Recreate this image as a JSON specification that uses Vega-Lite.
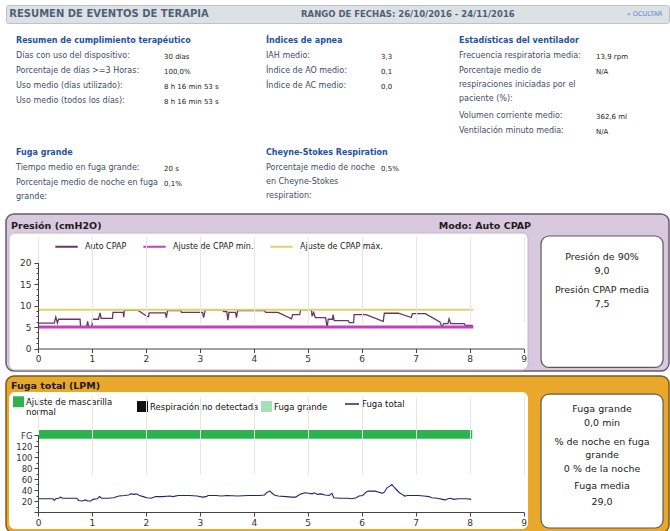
{
"$schema": "https://vega.github.io/schema/vega-lite/v6.json",
"padding": {"left": 5, "top": 4, "right": 2, "bottom": 0},
"background": "white",
"spacing": 3,
"resolve": {"scale": {"color": "independent", "stroke": "independent"}, "legend": {"color": "independent", "stroke": "independent"}},
"config": {
  "view": {"stroke": null},
  "font": "DejaVu Sans",
  "axis": {"labelFont": "DejaVu Sans", "labelFontSize": 9, "labelColor": "#333333", "domainColor": "#444444", "tickColor": "#444444", "labelFlush": false, "labelOverlap": false},
  "legend": {"labelFont": "DejaVu Sans"}
},
"vconcat": [
{
  "width": 663, "height": 18,
  "view": {"fill": "#dde1e6", "stroke": "#bcc3cb", "cornerRadius": 2},
  "layer": [
    {"data": {"values": [{"texto": "RESUMEN DE EVENTOS DE TERAPIA"}]},
     "mark": {"type": "text", "align": "left", "baseline": "middle", "fontSize": 10, "fontWeight": "bold", "color": "#4e6175"},
     "encoding": {"x": {"datum": 0.005, "type": "quantitative", "scale": {"domain": [0, 1], "nice": false, "zero": false}, "axis": null},
                  "y": {"datum": 0.5, "type": "quantitative", "scale": {"domain": [0, 1], "nice": false, "zero": false}, "axis": null},
                  "text": {"field": "texto"}}},
    {"data": {"values": [{"texto": "RANGO DE FECHAS: 26/10/2016 - 24/11/2016"}]},
     "mark": {"type": "text", "align": "left", "baseline": "middle", "fontSize": 8.5, "fontWeight": "bold", "color": "#4e6175"},
     "encoding": {"x": {"datum": 0.445, "type": "quantitative", "scale": {"domain": [0, 1], "nice": false, "zero": false}, "axis": null},
                  "y": {"datum": 0.5, "type": "quantitative", "scale": {"domain": [0, 1], "nice": false, "zero": false}, "axis": null},
                  "text": {"field": "texto"}}},
    {"data": {"values": [{"texto": "» OCULTAR"}]},
     "mark": {"type": "text", "align": "right", "baseline": "middle", "fontSize": 6.5, "color": "#5b86c2"},
     "encoding": {"x": {"datum": 0.99, "type": "quantitative", "scale": {"domain": [0, 1], "nice": false, "zero": false}, "axis": null},
                  "y": {"datum": 0.5, "type": "quantitative", "scale": {"domain": [0, 1], "nice": false, "zero": false}, "axis": null},
                  "text": {"field": "texto"}}}
  ]
},
{
  "hconcat": [
    {
      "width": 250, "height": 114,
      "data": {"values": [
        {"linea": 1, "etiqueta": "Días con uso del dispositivo:", "valor": "30 días"},
        {"linea": 2, "etiqueta": "Porcentaje de días >=3 Horas:", "valor": "100,0%"},
        {"linea": 3, "etiqueta": "Uso medio (días utilizado):", "valor": "8 h 16 min 53 s"},
        {"linea": 4, "etiqueta": "Uso medio (todos los días):", "valor": "8 h 16 min 53 s"}
      ]},
      "layer": [
        {"mark": {"type": "text", "align": "left", "baseline": "top", "fontSize": 8, "color": "#3d4d66", "lineBreak": "\n", "lineHeight": 14},
         "encoding": {"x": {"datum": "etiqueta", "type": "nominal", "scale": {"type": "point", "domain": ["etiqueta", "valor"], "range": [10, 158], "padding": 0}, "axis": null},
                      "y": {"field": "linea", "type": "quantitative", "scale": {"domain": [0, 6], "range": [9.5, 99.5], "nice": false, "zero": false}, "axis": null},
                      "text": {"field": "etiqueta"}}},
        {"mark": {"type": "text", "align": "left", "baseline": "top", "fontSize": 7, "color": "#1a1a1a", "dy": 1},
         "encoding": {"x": {"datum": "valor", "type": "nominal", "scale": {"type": "point", "domain": ["etiqueta", "valor"], "range": [10, 158], "padding": 0}, "axis": null},
                      "y": {"field": "linea", "type": "quantitative", "scale": {"domain": [0, 6], "range": [9.5, 99.5], "nice": false, "zero": false}, "axis": null},
                      "text": {"field": "valor"}}},
        {"data": {"values": [{"titulo": "Resumen de cumplimiento terapéutico"}]},
         "mark": {"type": "text", "align": "left", "baseline": "top", "fontSize": 8, "fontWeight": "bold", "color": "#27519a"},
         "encoding": {"x": {"datum": "etiqueta", "type": "nominal", "scale": {"type": "point", "domain": ["etiqueta", "valor"], "range": [10, 158], "padding": 0}, "axis": null},
                      "y": {"datum": 0, "type": "quantitative", "scale": {"domain": [0, 6], "range": [9.5, 99.5], "nice": false, "zero": false}, "axis": null},
                      "text": {"field": "titulo"}}}
      ]
    },
    {
      "width": 193, "height": 114,
      "data": {"values": [
        {"linea": 1, "etiqueta": "IAH medio:", "valor": "3,3"},
        {"linea": 2, "etiqueta": "Índice de AO medio:", "valor": "0,1"},
        {"linea": 3, "etiqueta": "Índice de AC medio:", "valor": "0,0"}
      ]},
      "layer": [
        {"mark": {"type": "text", "align": "left", "baseline": "top", "fontSize": 8, "color": "#3d4d66", "lineBreak": "\n", "lineHeight": 14},
         "encoding": {"x": {"datum": "etiqueta", "type": "nominal", "scale": {"type": "point", "domain": ["etiqueta", "valor"], "range": [10, 125], "padding": 0}, "axis": null},
                      "y": {"field": "linea", "type": "quantitative", "scale": {"domain": [0, 6], "range": [9.5, 99.5], "nice": false, "zero": false}, "axis": null},
                      "text": {"field": "etiqueta"}}},
        {"mark": {"type": "text", "align": "left", "baseline": "top", "fontSize": 7, "color": "#1a1a1a", "dy": 1},
         "encoding": {"x": {"datum": "valor", "type": "nominal", "scale": {"type": "point", "domain": ["etiqueta", "valor"], "range": [10, 125], "padding": 0}, "axis": null},
                      "y": {"field": "linea", "type": "quantitative", "scale": {"domain": [0, 6], "range": [9.5, 99.5], "nice": false, "zero": false}, "axis": null},
                      "text": {"field": "valor"}}},
        {"data": {"values": [{"titulo": "Índices de apnea"}]},
         "mark": {"type": "text", "align": "left", "baseline": "top", "fontSize": 8, "fontWeight": "bold", "color": "#27519a"},
         "encoding": {"x": {"datum": "etiqueta", "type": "nominal", "scale": {"type": "point", "domain": ["etiqueta", "valor"], "range": [10, 125], "padding": 0}, "axis": null},
                      "y": {"datum": 0, "type": "quantitative", "scale": {"domain": [0, 6], "range": [9.5, 99.5], "nice": false, "zero": false}, "axis": null},
                      "text": {"field": "titulo"}}}
      ]
    },
    {
      "width": 220, "height": 114,
      "data": {"values": [
        {"linea": 1, "etiqueta": "Frecuencia respiratoria media:", "valor": "13,9 rpm"},
        {"linea": 2, "etiqueta": "Porcentaje medio de\nrespiraciones iniciadas por el\npaciente (%):", "valor": "N/A"},
        {"linea": 5, "etiqueta": "Volumen corriente medio:", "valor": "362,6 ml"},
        {"linea": 6, "etiqueta": "Ventilación minuto media:", "valor": "N/A"}
      ]},
      "layer": [
        {"mark": {"type": "text", "align": "left", "baseline": "top", "fontSize": 8, "color": "#3d4d66", "lineBreak": "\n", "lineHeight": 14},
         "encoding": {"x": {"datum": "etiqueta", "type": "nominal", "scale": {"type": "point", "domain": ["etiqueta", "valor"], "range": [10, 147], "padding": 0}, "axis": null},
                      "y": {"field": "linea", "type": "quantitative", "scale": {"domain": [0, 6], "range": [9.5, 99.5], "nice": false, "zero": false}, "axis": null},
                      "text": {"field": "etiqueta"}}},
        {"mark": {"type": "text", "align": "left", "baseline": "top", "fontSize": 7, "color": "#1a1a1a", "dy": 1},
         "encoding": {"x": {"datum": "valor", "type": "nominal", "scale": {"type": "point", "domain": ["etiqueta", "valor"], "range": [10, 147], "padding": 0}, "axis": null},
                      "y": {"field": "linea", "type": "quantitative", "scale": {"domain": [0, 6], "range": [9.5, 99.5], "nice": false, "zero": false}, "axis": null},
                      "text": {"field": "valor"}}},
        {"data": {"values": [{"titulo": "Estadísticas del ventilador"}]},
         "mark": {"type": "text", "align": "left", "baseline": "top", "fontSize": 8, "fontWeight": "bold", "color": "#27519a"},
         "encoding": {"x": {"datum": "etiqueta", "type": "nominal", "scale": {"type": "point", "domain": ["etiqueta", "valor"], "range": [10, 147], "padding": 0}, "axis": null},
                      "y": {"datum": 0, "type": "quantitative", "scale": {"domain": [0, 6], "range": [9.5, 99.5], "nice": false, "zero": false}, "axis": null},
                      "text": {"field": "titulo"}}}
      ]
    }
  ],
  "spacing": 0,
  "bounds": "flush"
},
{
  "hconcat": [
    {
      "width": 250, "height": 66,
      "data": {"values": [
        {"linea": 1, "etiqueta": "Tiempo medio en fuga grande:", "valor": "20 s"},
        {"linea": 2, "etiqueta": "Porcentaje medio de noche en fuga\ngrande:", "valor": "0,1%"}
      ]},
      "layer": [
        {"mark": {"type": "text", "align": "left", "baseline": "top", "fontSize": 8, "color": "#3d4d66", "lineBreak": "\n", "lineHeight": 14},
         "encoding": {"x": {"datum": "etiqueta", "type": "nominal", "scale": {"type": "point", "domain": ["etiqueta", "valor"], "range": [10, 158], "padding": 0}, "axis": null},
                      "y": {"field": "linea", "type": "quantitative", "scale": {"domain": [0, 3], "range": [4.5, 49.5], "nice": false, "zero": false}, "axis": null},
                      "text": {"field": "etiqueta"}}},
        {"mark": {"type": "text", "align": "left", "baseline": "top", "fontSize": 7, "color": "#1a1a1a", "dy": 1},
         "encoding": {"x": {"datum": "valor", "type": "nominal", "scale": {"type": "point", "domain": ["etiqueta", "valor"], "range": [10, 158], "padding": 0}, "axis": null},
                      "y": {"field": "linea", "type": "quantitative", "scale": {"domain": [0, 3], "range": [4.5, 49.5], "nice": false, "zero": false}, "axis": null},
                      "text": {"field": "valor"}}},
        {"data": {"values": [{"titulo": "Fuga grande"}]},
         "mark": {"type": "text", "align": "left", "baseline": "top", "fontSize": 8, "fontWeight": "bold", "color": "#27519a"},
         "encoding": {"x": {"datum": "etiqueta", "type": "nominal", "scale": {"type": "point", "domain": ["etiqueta", "valor"], "range": [10, 158], "padding": 0}, "axis": null},
                      "y": {"datum": 0, "type": "quantitative", "scale": {"domain": [0, 3], "range": [4.5, 49.5], "nice": false, "zero": false}, "axis": null},
                      "text": {"field": "titulo"}}}
      ]
    },
    {
      "width": 413, "height": 66,
      "data": {"values": [
        {"linea": 1, "etiqueta": "Porcentaje medio de noche\nen Cheyne-Stokes\nrespiration:", "valor": "0,5%"}
      ]},
      "layer": [
        {"mark": {"type": "text", "align": "left", "baseline": "top", "fontSize": 8, "color": "#3d4d66", "lineBreak": "\n", "lineHeight": 14},
         "encoding": {"x": {"datum": "etiqueta", "type": "nominal", "scale": {"type": "point", "domain": ["etiqueta", "valor"], "range": [10, 125], "padding": 0}, "axis": null},
                      "y": {"field": "linea", "type": "quantitative", "scale": {"domain": [0, 3], "range": [4.5, 49.5], "nice": false, "zero": false}, "axis": null},
                      "text": {"field": "etiqueta"}}},
        {"mark": {"type": "text", "align": "left", "baseline": "top", "fontSize": 7, "color": "#1a1a1a", "dy": 1},
         "encoding": {"x": {"datum": "valor", "type": "nominal", "scale": {"type": "point", "domain": ["etiqueta", "valor"], "range": [10, 125], "padding": 0}, "axis": null},
                      "y": {"field": "linea", "type": "quantitative", "scale": {"domain": [0, 3], "range": [4.5, 49.5], "nice": false, "zero": false}, "axis": null},
                      "text": {"field": "valor"}}},
        {"data": {"values": [{"titulo": "Cheyne-Stokes Respiration"}]},
         "mark": {"type": "text", "align": "left", "baseline": "top", "fontSize": 8, "fontWeight": "bold", "color": "#27519a"},
         "encoding": {"x": {"datum": "etiqueta", "type": "nominal", "scale": {"type": "point", "domain": ["etiqueta", "valor"], "range": [10, 125], "padding": 0}, "axis": null},
                      "y": {"datum": 0, "type": "quantitative", "scale": {"domain": [0, 3], "range": [4.5, 49.5], "nice": false, "zero": false}, "axis": null},
                      "text": {"field": "titulo"}}}
      ]
    }
  ],
  "spacing": 0,
  "bounds": "flush"
},
{
  "width": 663, "height": 157,
  "view": {"fill": "#d9c9de", "stroke": "#6a5a70", "strokeWidth": 1.5, "cornerRadius": 8},
  "layer": [
    {"data": {"values": [{}]},
     "mark": {"type": "rect", "fill": "white", "stroke": "#c4b2ca", "strokeWidth": 1, "cornerRadius": 6},
     "encoding": {"x": {"datum": -0.538, "type": "quantitative", "scale": {"domain": [0, 9], "range": [32, 517.5], "nice": false, "zero": false}},
                  "x2": {"datum": 9.084},
                  "y": {"datum": -5.0, "type": "quantitative", "scale": {"domain": [0, 20], "range": [134.5, 48.5], "nice": false, "zero": false}},
                  "y2": {"datum": 26.86}}},
    {"data": {"values": [{}]},
     "mark": {"type": "rect", "fill": "white", "stroke": "#5a5a5a", "strokeWidth": 1.2, "cornerRadius": 8},
     "encoding": {"x": {"datum": 9.325, "type": "quantitative", "scale": {"domain": [0, 9], "range": [32, 517.5], "nice": false, "zero": false}},
                  "x2": {"datum": 11.587},
                  "y": {"datum": -4.4, "type": "quantitative", "scale": {"domain": [0, 20], "range": [134.5, 48.5], "nice": false, "zero": false}},
                  "y2": {"datum": 26.16}}},
    {"data": {"values": [{"texto": "Presión (cmH2O)"}]},
     "mark": {"type": "text", "align": "left", "baseline": "middle", "fontSize": 9.5, "fontWeight": "bold", "color": "#1c1c1c"},
     "encoding": {"x": {"datum": -0.5, "type": "quantitative", "scale": {"domain": [0, 9], "range": [32, 517.5], "nice": false, "zero": false}},
                  "y": {"datum": 28.49, "type": "quantitative", "scale": {"domain": [0, 20], "range": [134.5, 48.5], "nice": false, "zero": false}},
                  "text": {"field": "texto"}}},
    {"data": {"values": [{"texto": "Modo: Auto CPAP"}]},
     "mark": {"type": "text", "align": "right", "baseline": "middle", "fontSize": 9.5, "fontWeight": "bold", "color": "#1c1c1c"},
     "encoding": {"x": {"datum": 9.14, "type": "quantitative", "scale": {"domain": [0, 9], "range": [32, 517.5], "nice": false, "zero": false}},
                  "y": {"datum": 28.49, "type": "quantitative", "scale": {"domain": [0, 20], "range": [134.5, 48.5], "nice": false, "zero": false}},
                  "text": {"field": "texto"}}},
    {"data": {"values": [
       {"hora": 0, "presion": 5.9}, {"hora": 0.3, "presion": 5.9}, {"hora": 0.33, "presion": 7.3}, {"hora": 0.36, "presion": 5.9},
       {"hora": 0.38, "presion": 6.8}, {"hora": 0.78, "presion": 6.8}, {"hora": 0.79, "presion": 5.0}, {"hora": 0.9, "presion": 5.0},
       {"hora": 0.92, "presion": 6.3}, {"hora": 0.94, "presion": 5.0}, {"hora": 1.0, "presion": 5.0}, {"hora": 1.01, "presion": 6.8},
       {"hora": 1.12, "presion": 6.8}, {"hora": 1.15, "presion": 8.3}, {"hora": 1.17, "presion": 7.0}, {"hora": 1.38, "presion": 7.0},
       {"hora": 1.39, "presion": 8.4}, {"hora": 1.58, "presion": 8.4}, {"hora": 1.59, "presion": 7.3}, {"hora": 1.6, "presion": 8.9},
       {"hora": 1.85, "presion": 8.9}, {"hora": 2.03, "presion": 7.4}, {"hora": 2.05, "presion": 7.4}, {"hora": 2.06, "presion": 8.3},
       {"hora": 2.36, "presion": 8.3}, {"hora": 2.38, "presion": 7.2}, {"hora": 2.4, "presion": 8.8}, {"hora": 2.65, "presion": 8.8},
       {"hora": 2.66, "presion": 8.4}, {"hora": 3.05, "presion": 8.4}, {"hora": 3.07, "presion": 7.2}, {"hora": 3.1, "presion": 9.0},
       {"hora": 3.42, "presion": 9.0}, {"hora": 3.44, "presion": 8.6}, {"hora": 3.5, "presion": 8.6}, {"hora": 3.52, "presion": 6.6},
       {"hora": 3.54, "presion": 8.4}, {"hora": 3.66, "presion": 8.4}, {"hora": 3.68, "presion": 7.2}, {"hora": 3.7, "presion": 8.8},
       {"hora": 4.2, "presion": 8.8}, {"hora": 4.22, "presion": 8.4}, {"hora": 4.45, "presion": 8.4}, {"hora": 4.7, "presion": 6.9},
       {"hora": 4.72, "presion": 7.9}, {"hora": 4.85, "presion": 7.9}, {"hora": 4.87, "presion": 9.0}, {"hora": 5.07, "presion": 9.0},
       {"hora": 5.08, "presion": 7.5}, {"hora": 5.11, "presion": 8.4}, {"hora": 5.14, "presion": 7.2}, {"hora": 5.33, "presion": 7.2},
       {"hora": 5.36, "presion": 5.0}, {"hora": 5.38, "presion": 6.8}, {"hora": 5.46, "presion": 6.8}, {"hora": 5.47, "presion": 7.9},
       {"hora": 5.49, "presion": 6.5}, {"hora": 5.75, "presion": 6.5}, {"hora": 5.77, "presion": 6.0}, {"hora": 5.85, "presion": 6.0},
       {"hora": 5.86, "presion": 7.9}, {"hora": 6.08, "presion": 7.9}, {"hora": 6.4, "presion": 6.3}, {"hora": 6.42, "presion": 8.2},
       {"hora": 6.68, "presion": 8.2}, {"hora": 6.92, "presion": 7.2}, {"hora": 6.94, "presion": 8.1}, {"hora": 7.18, "presion": 8.1},
       {"hora": 7.45, "presion": 6.2}, {"hora": 7.49, "presion": 5.0}, {"hora": 7.52, "presion": 5.8}, {"hora": 7.6, "presion": 5.8},
       {"hora": 7.62, "presion": 6.9}, {"hora": 7.65, "presion": 5.8}, {"hora": 7.9, "presion": 5.8}, {"hora": 7.92, "presion": 5.4},
       {"hora": 8.06, "presion": 5.4}
     ]},
     "mark": {"type": "line", "strokeWidth": 1.3},
     "encoding": {
       "x": {"field": "hora", "type": "quantitative", "scale": {"domain": [0, 9], "range": [32, 517.5], "nice": false, "zero": false},
             "axis": {"values": [0, 1, 2, 3, 4, 5, 6, 7, 8, 9], "tickCount": 100, "format": "d", "labelOverlap": false, "offset": -22.5, "grid": true, "gridColor": "#e6e6e6", "tickSize": 4, "labelPadding": 2, "title": null, "zindex": 1}},
       "y": {"field": "presion", "type": "quantitative", "scale": {"domain": [0, 20], "range": [134.5, 48.5], "nice": false, "zero": false},
             "axis": {"values": [0, 1.25, 2.5, 3.75, 5, 6.25, 7.5, 8.75, 10, 11.25, 12.5, 13.75, 15, 16.25, 17.5, 18.75, 20], "tickCount": 100, "format": "d", "labelOverlap": false, "offset": -32, "grid": false,
                      "labelExpr": "datum.value % 5 == 0 ? datum.label : ''",
                      "tickSize": {"condition": {"test": "datum.value % 5 == 0", "value": 4}, "value": 2},
                      "labelPadding": 3, "title": null, "zindex": 1}},
       "stroke": {"datum": "Auto CPAP", "type": "nominal",
                  "scale": {"domain": ["Auto CPAP", "Ajuste de CPAP mín.", "Ajuste de CPAP máx."], "range": ["#6a3468", "#c042c0", "#dcd46a"]},
                  "legend": {"orient": "none", "legendX": 48, "legendY": 20, "direction": "horizontal", "title": null, "symbolType": "stroke",
                             "symbolSize": 500, "symbolStrokeWidth": 2, "labelFontSize": 8, "labelColor": "#222222", "columnPadding": 12, "labelOffset": 6}}
     }},
    {"data": {"values": [{"serie": "Ajuste de CPAP máx.", "presion": 9, "inicio": 0, "fin": 8.07}]},
     "mark": {"type": "rule", "strokeWidth": 2},
     "encoding": {"x": {"field": "inicio", "type": "quantitative", "scale": {"domain": [0, 9], "range": [32, 517.5], "nice": false, "zero": false}},
                  "x2": {"field": "fin"},
                  "y": {"field": "presion", "type": "quantitative", "scale": {"domain": [0, 20], "range": [134.5, 48.5], "nice": false, "zero": false}},
                  "stroke": {"field": "serie", "type": "nominal", "legend": null}}},
    {"data": {"values": [{"serie": "Ajuste de CPAP mín.", "presion": 5, "inicio": 0, "fin": 8.07}]},
     "mark": {"type": "rule", "strokeWidth": 3},
     "encoding": {"x": {"field": "inicio", "type": "quantitative", "scale": {"domain": [0, 9], "range": [32, 517.5], "nice": false, "zero": false}},
                  "x2": {"field": "fin"},
                  "y": {"field": "presion", "type": "quantitative", "scale": {"domain": [0, 20], "range": [134.5, 48.5], "nice": false, "zero": false}},
                  "stroke": {"field": "serie", "type": "nominal", "legend": null}}},
    {"data": {"values": [{"texto": "Presión de 90%\n9,0"}]},
     "mark": {"type": "text", "align": "center", "baseline": "top", "fontSize": 9.5, "color": "#222222", "lineBreak": "\n", "lineHeight": 14},
     "encoding": {"x": {"datum": 10.456, "type": "quantitative", "scale": {"domain": [0, 9], "range": [32, 517.5], "nice": false, "zero": false}},
                  "y": {"datum": 22.44, "type": "quantitative", "scale": {"domain": [0, 20], "range": [134.5, 48.5], "nice": false, "zero": false}},
                  "text": {"field": "texto"}}},
    {"data": {"values": [{"texto": "Presión CPAP media\n7,5"}]},
     "mark": {"type": "text", "align": "center", "baseline": "top", "fontSize": 9.5, "color": "#222222", "lineBreak": "\n", "lineHeight": 14},
     "encoding": {"x": {"datum": 10.456, "type": "quantitative", "scale": {"domain": [0, 9], "range": [32, 517.5], "nice": false, "zero": false}},
                  "y": {"datum": 14.77, "type": "quantitative", "scale": {"domain": [0, 20], "range": [134.5, 48.5], "nice": false, "zero": false}},
                  "text": {"field": "texto"}}}
  ]
},
{
  "width": 663, "height": 157,
  "view": {"fill": "#e9a82b", "stroke": "#7a5a18", "strokeWidth": 1.5, "cornerRadius": 8},
  "layer": [
    {"data": {"values": [{}]},
     "mark": {"type": "rect", "fill": "white", "cornerRadius": 6},
     "encoding": {"x": {"datum": -0.538, "type": "quantitative", "scale": {"domain": [0, 9], "range": [32, 517.5], "nice": false, "zero": false}},
                  "x2": {"datum": 9.084},
                  "y": {"datum": -30.9, "type": "quantitative", "scale": {"domain": [0, 140], "range": [136, 59], "nice": false, "zero": false}},
                  "y2": {"datum": 218.2}}},
    {"data": {"values": [{}]},
     "mark": {"type": "rect", "fill": "white", "stroke": "#5a5a5a", "strokeWidth": 1.2, "cornerRadius": 8},
     "encoding": {"x": {"datum": 9.325, "type": "quantitative", "scale": {"domain": [0, 9], "range": [32, 517.5], "nice": false, "zero": false}},
                  "x2": {"datum": 11.587},
                  "y": {"datum": -29.1, "type": "quantitative", "scale": {"domain": [0, 140], "range": [136, 59], "nice": false, "zero": false}},
                  "y2": {"datum": 214.5}}},
    {"data": {"values": [{"texto": "Fuga total (LPM)"}]},
     "mark": {"type": "text", "align": "left", "baseline": "middle", "fontSize": 9.5, "fontWeight": "bold", "color": "#1c1c1c"},
     "encoding": {"x": {"datum": -0.5, "type": "quantitative", "scale": {"domain": [0, 9], "range": [32, 517.5], "nice": false, "zero": false}},
                  "y": {"datum": 229.1, "type": "quantitative", "scale": {"domain": [0, 140], "range": [136, 59], "nice": false, "zero": false}},
                  "text": {"field": "texto"}}},
    {"data": {"values": [{"estado": "Ajuste de mascarilla normal", "inicio": 0, "fin": 8.05}]},
     "mark": {"type": "rect"},
     "encoding": {"x": {"field": "inicio", "type": "quantitative", "scale": {"domain": [0, 9], "range": [32, 517.5], "nice": false, "zero": false}},
                  "x2": {"field": "fin"},
                  "y": {"datum": 133, "type": "quantitative", "scale": {"domain": [0, 140], "range": [136, 59], "nice": false, "zero": false}},
                  "y2": {"datum": 149},
                  "color": {"field": "estado", "type": "nominal",
                            "scale": {"domain": ["Ajuste de mascarilla normal", "Respiración no detectada", "Fuga grande"], "range": ["#2eb24f", "#111111", "#a3e0b4"]},
                            "legend": {"orient": "none", "legendX": 7, "legendY": 20, "direction": "horizontal", "columns": 3, "gridAlign": "all", "title": null, "symbolType": "square",
                                       "symbolSize": 120, "symbolStrokeWidth": 0, "labelFontSize": 8.5, "labelColor": "#111111", "columnPadding": 2, "labelOffset": 2,
                                       "labelExpr": "datum.label == 'Ajuste de mascarilla normal' ? ['Ajuste de mascarilla', 'normal'] : datum.label"}}}},
    {"data": {"values": [
       {"hora": 0, "fuga": 24}, {"hora": 0.1, "fuga": 24}, {"hora": 0.2, "fuga": 24}, {"hora": 0.28, "fuga": 24}, {"hora": 0.3, "fuga": 21},
       {"hora": 0.33, "fuga": 24}, {"hora": 0.38, "fuga": 25}, {"hora": 0.42, "fuga": 27}, {"hora": 0.45, "fuga": 25}, {"hora": 0.6, "fuga": 25},
       {"hora": 0.72, "fuga": 25}, {"hora": 0.75, "fuga": 21}, {"hora": 0.82, "fuga": 20}, {"hora": 0.88, "fuga": 22}, {"hora": 0.92, "fuga": 20},
       {"hora": 0.98, "fuga": 20}, {"hora": 1.02, "fuga": 23}, {"hora": 1.1, "fuga": 24}, {"hora": 1.14, "fuga": 28}, {"hora": 1.18, "fuga": 25},
       {"hora": 1.3, "fuga": 25}, {"hora": 1.4, "fuga": 26}, {"hora": 1.5, "fuga": 29}, {"hora": 1.6, "fuga": 30}, {"hora": 1.68, "fuga": 31},
       {"hora": 1.72, "fuga": 33}, {"hora": 1.78, "fuga": 32}, {"hora": 1.82, "fuga": 33}, {"hora": 1.88, "fuga": 30}, {"hora": 1.95, "fuga": 28},
       {"hora": 2.02, "fuga": 26}, {"hora": 2.1, "fuga": 25}, {"hora": 2.18, "fuga": 28}, {"hora": 2.3, "fuga": 28}, {"hora": 2.45, "fuga": 29},
       {"hora": 2.5, "fuga": 28}, {"hora": 2.6, "fuga": 30}, {"hora": 2.8, "fuga": 30}, {"hora": 2.95, "fuga": 29}, {"hora": 3.05, "fuga": 27},
       {"hora": 3.12, "fuga": 28}, {"hora": 3.15, "fuga": 30}, {"hora": 3.3, "fuga": 30}, {"hora": 3.4, "fuga": 29}, {"hora": 3.5, "fuga": 30},
       {"hora": 3.7, "fuga": 29}, {"hora": 3.9, "fuga": 30}, {"hora": 4.1, "fuga": 30}, {"hora": 4.2, "fuga": 31}, {"hora": 4.25, "fuga": 36},
       {"hora": 4.3, "fuga": 38}, {"hora": 4.33, "fuga": 35}, {"hora": 4.38, "fuga": 31}, {"hora": 4.45, "fuga": 29}, {"hora": 4.6, "fuga": 28},
       {"hora": 4.7, "fuga": 27}, {"hora": 4.78, "fuga": 27}, {"hora": 4.82, "fuga": 30}, {"hora": 4.88, "fuga": 33}, {"hora": 4.95, "fuga": 35},
       {"hora": 5.02, "fuga": 34}, {"hora": 5.08, "fuga": 33}, {"hora": 5.12, "fuga": 35}, {"hora": 5.18, "fuga": 32}, {"hora": 5.25, "fuga": 33},
       {"hora": 5.32, "fuga": 31}, {"hora": 5.4, "fuga": 30}, {"hora": 5.45, "fuga": 34}, {"hora": 5.48, "fuga": 26}, {"hora": 5.6, "fuga": 25},
       {"hora": 5.75, "fuga": 25}, {"hora": 5.82, "fuga": 24}, {"hora": 5.9, "fuga": 26}, {"hora": 5.95, "fuga": 29}, {"hora": 6.02, "fuga": 30},
       {"hora": 6.08, "fuga": 36}, {"hora": 6.12, "fuga": 38}, {"hora": 6.25, "fuga": 38}, {"hora": 6.32, "fuga": 36}, {"hora": 6.38, "fuga": 34},
       {"hora": 6.42, "fuga": 36}, {"hora": 6.47, "fuga": 44}, {"hora": 6.52, "fuga": 47}, {"hora": 6.56, "fuga": 50}, {"hora": 6.6, "fuga": 45},
       {"hora": 6.65, "fuga": 40}, {"hora": 6.7, "fuga": 35}, {"hora": 6.75, "fuga": 32}, {"hora": 6.8, "fuga": 29}, {"hora": 6.85, "fuga": 30},
       {"hora": 6.95, "fuga": 30}, {"hora": 7.05, "fuga": 30}, {"hora": 7.15, "fuga": 29}, {"hora": 7.25, "fuga": 28}, {"hora": 7.3, "fuga": 26},
       {"hora": 7.4, "fuga": 25}, {"hora": 7.5, "fuga": 23}, {"hora": 7.55, "fuga": 22}, {"hora": 7.6, "fuga": 24}, {"hora": 7.65, "fuga": 25},
       {"hora": 7.7, "fuga": 23}, {"hora": 7.8, "fuga": 24}, {"hora": 7.95, "fuga": 24}, {"hora": 8.03, "fuga": 23}
     ]},
     "mark": {"type": "line", "strokeWidth": 1.1},
     "encoding": {
       "x": {"field": "hora", "type": "quantitative", "scale": {"domain": [0, 9], "range": [32, 517.5], "nice": false, "zero": false},
             "axis": {"values": [0, 1, 2, 3, 4, 5, 6, 7, 8, 9], "tickCount": 100, "format": "d", "labelOverlap": false, "offset": -21, "grid": true, "gridColor": "#e6e6e6", "tickSize": 4, "labelPadding": 2, "title": null, "zindex": 1}},
       "y": {"field": "fuga", "type": "quantitative", "scale": {"domain": [0, 140], "range": [136, 59], "nice": false, "zero": false},
             "axis": {"values": [0, 10, 20, 30, 40, 50, 60, 70, 80, 90, 100, 110, 120, 130, 140], "tickCount": 100, "format": "d", "labelOverlap": false, "offset": -32, "grid": false,
                      "labelExpr": "datum.value == 140 ? 'FG' : (datum.value > 0 && datum.value % 20 == 0 ? datum.label : '')",
                      "tickSize": {"condition": {"test": "datum.value % 20 == 0", "value": 4}, "value": 2},
                      "labelFontSize": 8.5, "labelPadding": 2, "title": null, "zindex": 1}},
       "stroke": {"datum": "Fuga total", "type": "nominal",
                  "scale": {"domain": ["Fuga total"], "range": ["#25256e"]},
                  "legend": {"orient": "none", "legendX": 338, "legendY": 20, "title": null, "symbolType": "stroke", "symbolSize": 196,
                             "symbolStrokeWidth": 1.5, "labelFontSize": 8.5, "labelColor": "#111111", "labelOffset": 2}}
     }},
    {"data": {"values": [{"texto": "Fuga grande\n0,0  min"}]},
     "mark": {"type": "text", "align": "center", "baseline": "top", "fontSize": 9.5, "color": "#222222", "lineBreak": "\n", "lineHeight": 14},
     "encoding": {"x": {"datum": 10.456, "type": "quantitative", "scale": {"domain": [0, 9], "range": [32, 517.5], "nice": false, "zero": false}},
                  "y": {"datum": 196.4, "type": "quantitative", "scale": {"domain": [0, 140], "range": [136, 59], "nice": false, "zero": false}},
                  "text": {"field": "texto"}}},
    {"data": {"values": [{"texto": "% de noche en fuga\ngrande\n0 % de la noche"}]},
     "mark": {"type": "text", "align": "center", "baseline": "top", "fontSize": 9.5, "color": "#222222", "lineBreak": "\n", "lineHeight": 13.5},
     "encoding": {"x": {"datum": 10.456, "type": "quantitative", "scale": {"domain": [0, 9], "range": [32, 517.5], "nice": false, "zero": false}},
                  "y": {"datum": 136.4, "type": "quantitative", "scale": {"domain": [0, 140], "range": [136, 59], "nice": false, "zero": false}},
                  "text": {"field": "texto"}}},
    {"data": {"values": [{"texto": "Fuga media\n29,0"}]},
     "mark": {"type": "text", "align": "center", "baseline": "top", "fontSize": 9.5, "color": "#222222", "lineBreak": "\n", "lineHeight": 16},
     "encoding": {"x": {"datum": 10.456, "type": "quantitative", "scale": {"domain": [0, 9], "range": [32, 517.5], "nice": false, "zero": false}},
                  "y": {"datum": 56.4, "type": "quantitative", "scale": {"domain": [0, 140], "range": [136, 59], "nice": false, "zero": false}},
                  "text": {"field": "texto"}}}
  ]
}
]
}
